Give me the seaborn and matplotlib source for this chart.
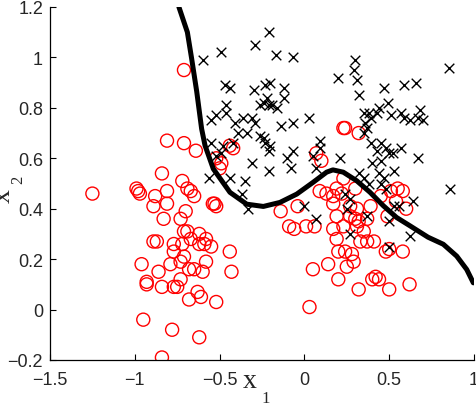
import numpy as np
import pandas as pd
import matplotlib
matplotlib.use("Agg")
import matplotlib.pyplot as plt
import seaborn as sns

# class "x" points (black crosses)
cross_x = [-0.21, -0.29, -0.49, -0.60, -0.17, -0.07, -0.47, -0.44, -0.30, -0.23,
           -0.20, -0.12, -0.12, -0.46, -0.26, -0.22, -0.24, -0.21, -0.19, -0.16,
           -0.55, -0.52, -0.46, -0.41, -0.36, -0.31, -0.29, -0.14, -0.07, 0.03,
           0.30, 0.20, 0.29, 0.31, 0.85, 0.59, 0.66, 0.47, 0.32, 0.49,
           0.44, 0.35, 0.38, 0.39, 0.43, 0.51, 0.57, 0.59, 0.62, 0.68,
           0.67, 0.70, 0.36, -0.39, -0.34, -0.26, -0.24, -0.23, -0.20, -0.21,
           -0.55, -0.48, -0.42, -0.52, -0.49, -0.31, -0.07, -0.10, -0.08, 0.09,
           0.09, -0.21, -0.56, -0.44, -0.35, -0.37, -0.33, 0.00, 0.07, 0.07,
           0.05, 0.35, 0.37, 0.39, 0.45, 0.48, 0.50, 0.52, 0.43, 0.57,
           0.21, 0.67, 0.40, 0.45, 0.44, 0.47, 0.53, 0.32, 0.35, 0.38,
           0.45, 0.48, 0.86, 0.24, 0.27, 0.53, 0.56, 0.64, 0.25, 0.37,
           0.50, 0.27, 0.62, 0.50]
cross_y = [1.10, 1.05, 1.02, 0.99, 1.01, 1.00, 0.89, 0.88, 0.87, 0.89,
           0.90, 0.88, 0.84, 0.81, 0.81, 0.84, 0.82, 0.81, 0.81, 0.80,
           0.75, 0.77, 0.78, 0.74, 0.76, 0.76, 0.74, 0.73, 0.74, 0.76,
           0.99, 0.92, 0.95, 0.91, 0.96, 0.89, 0.90, 0.88, 0.85, 0.82,
           0.80, 0.78, 0.78, 0.76, 0.78, 0.77, 0.78, 0.76, 0.75, 0.79,
           0.76, 0.75, 0.74, 0.70, 0.70, 0.69, 0.68, 0.66, 0.65, 0.63,
           0.66, 0.65, 0.66, 0.61, 0.62, 0.58, 0.63, 0.60, 0.56, 0.67,
           0.64, 0.55, 0.52, 0.52, 0.51, 0.46, 0.40, 0.41, 0.36, 0.56,
           0.61, 0.70, 0.72, 0.66, 0.66, 0.64, 0.62, 0.62, 0.63, 0.64,
           0.60, 0.60, 0.58, 0.59, 0.54, 0.52, 0.55, 0.54, 0.52, 0.50,
           0.50, 0.48, 0.48, 0.46, 0.44, 0.41, 0.41, 0.43, 0.40, 0.37,
           0.35, 0.30, 0.29, 0.25]

# class "o" points (red circles)
circ_x = [-0.71, -1.25, -0.81, -0.71, -0.84, -0.72, -0.99, -0.98, -0.97, -0.88,
          -0.81, -0.89, -0.81, -0.69, -0.83, -0.73, -0.70, -0.71, -0.69, -0.89,
          -0.87, -0.77, -0.72, -0.77, -0.71, -0.96, -0.86, -0.79, -0.73, -0.93,
          -0.93, -0.84, -0.77, -0.75, -0.73, -0.68, -0.68, -0.95, -0.78, -0.84,
          -0.62, -0.59, -0.55, -0.44, -0.65, -0.60, -0.58, -0.43, -0.63, -0.61,
          -0.52, -0.62, 0.05, 0.14, 0.20, 0.03, 0.19, 0.20, 0.24, 0.28,
          0.29, 0.25, 0.32, 0.40, 0.42, 0.44, 0.50, 0.62, 0.48, 0.50,
          0.58, 0.33, 0.37, 0.41, -0.64, -0.52, -0.49, -0.50, -0.44, -0.42,
          -0.67, -0.65, -0.54, -0.53, -0.52, -0.67, -0.62, -0.58, -0.14, -0.09,
          -0.06, -0.04, 0.01, 0.06, 0.07, 0.10, 0.09, 0.13, 0.17, 0.19,
          0.17, 0.19, 0.24, 0.23, 0.32, 0.23, 0.22, 0.30, 0.17, 0.27,
          0.31, 0.39, 0.45, 0.51, 0.55, 0.58, 0.60, 0.54, 0.30, 0.32,
          0.31, 0.27, 0.23, 0.37, 0.35, 0.49]
circ_y = [0.95, 0.46, 0.67, 0.66, 0.54, 0.51, 0.48, 0.47, 0.46, 0.45,
          0.47, 0.41, 0.42, 0.48, 0.36, 0.36, 0.39, 0.31, 0.31, 0.27,
          0.27, 0.26, 0.26, 0.23, 0.21, 0.18, 0.15, 0.18, 0.19, 0.11,
          0.10, 0.09, 0.09, 0.09, 0.12, 0.04, 0.16, -0.04, -0.08, -0.19,
          0.26, 0.26, 0.25, 0.23, 0.16, 0.15, 0.19, 0.15, 0.07, 0.05,
          0.03, -0.11, 0.16, 0.18, 0.12, 0.01, 0.28, 0.23, 0.23, 0.22,
          0.19, 0.17, 0.08, 0.12, 0.13, 0.12, 0.08, 0.10, 0.23, 0.24,
          0.23, 0.27, 0.27, 0.27, 0.63, 0.60, 0.58, 0.56, 0.65, 0.64,
          0.47, 0.45, 0.42, 0.42, 0.41, 0.28, 0.30, 0.28, 0.39, 0.33,
          0.32, 0.41, 0.33, 0.33, 0.62, 0.59, 0.47, 0.46, 0.45, 0.48,
          0.32, 0.37, 0.72, 0.72, 0.70, 0.52, 0.46, 0.48, 0.42, 0.41,
          0.40, 0.41, 0.45, 0.47, 0.48, 0.47, 0.40, 0.43, 0.36, 0.35,
          0.33, 0.37, 0.33, 0.36, 0.31, 0.37]

# decision boundary
bound_x = [-0.74, -0.69, -0.665, -0.635, -0.606, -0.586, -0.537, -0.439, -0.34, -0.242,
           -0.144, -0.045, 0.052, 0.131, 0.168, 0.229, 0.308, 0.387, 0.465, 0.544,
           0.623, 0.729, 0.819, 0.898, 0.957, 0.996]
bound_y = [1.20, 1.10, 0.996, 0.865, 0.717, 0.651, 0.558, 0.465, 0.418, 0.409,
           0.425, 0.458, 0.505, 0.545, 0.554, 0.545, 0.511, 0.465, 0.412, 0.365,
           0.332, 0.287, 0.259, 0.212, 0.159, 0.106]

x_ticks = [-1.5, -1, -0.5, 0, 0.5, 1]
x_tick_labels = ["\u22121.5", "\u22121", "\u22120.5", "0", "0.5", "1"]
y_ticks = [-0.2, 0, 0.2, 0.4, 0.6, 0.8, 1.0, 1.2]
y_tick_labels = ["\u22120.2", "0", "0.2", "0.4", "0.6", "0.8", "1", "1.2"]


def main():
    sns.set_style("ticks", {"xtick.direction": "in", "ytick.direction": "in"})
    plt.rcParams["font.family"] = ["Liberation Sans", "DejaVu Sans"]

    crosses = pd.DataFrame({"x1": cross_x, "x2": cross_y})
    circles = pd.DataFrame({"x1": circ_x, "x2": circ_y})
    boundary = pd.DataFrame({"x1": bound_x, "x2": bound_y})

    fig = plt.figure(figsize=(4.76, 4.06), dpi=100)
    ax = fig.add_axes([50 / 476, 1 - 361 / 406, 424 / 476, 353 / 406])

    sns.scatterplot(data=crosses, x="x1", y="x2", marker="x", color="black",
                    s=48, linewidth=1.0, ax=ax, zorder=3)
    sns.scatterplot(data=circles, x="x1", y="x2", marker="o", facecolor="none",
                    edgecolor="red", s=88, linewidth=1.0, ax=ax, zorder=2)
    sns.lineplot(data=boundary, x="x1", y="x2", sort=False, color="black",
                 linewidth=3.6, ax=ax, zorder=4)

    ax.set_xlim(-1.5, 1)
    ax.set_ylim(-0.2, 1.2)
    ax.set_xticks(x_ticks)
    ax.set_xticklabels(x_tick_labels)
    ax.set_yticks(y_ticks)
    ax.set_yticklabels(y_tick_labels)
    ax.tick_params(axis="both", labelsize=13, length=4, width=0.8, color="black")
    ax.tick_params(axis="x", pad=8)
    ax.tick_params(axis="y", pad=5)
    sns.despine(ax=ax)
    for side in ["left", "bottom"]:
        ax.spines[side].set_linewidth(0.9)
        ax.spines[side].set_color("black")
    ax.set_xlabel("")
    ax.set_ylabel("")

    # MATLAB-style labels with low subscripts
    serif = ["Liberation Serif", "DejaVu Serif"]
    ax.text(0.4705, -0.0765, "x", transform=ax.transAxes, ha="center",
            va="baseline", fontsize=20, family=serif)
    ax.text(0.509, -0.119, "1", transform=ax.transAxes, ha="center",
            va="baseline", fontsize=12, family=serif)
    ax.text(-0.0943, 0.467, "x", transform=ax.transAxes, ha="center",
            va="baseline", fontsize=20, family=serif, rotation=90,
            rotation_mode="anchor")
    ax.text(-0.066, 0.513, "2", transform=ax.transAxes, ha="center",
            va="baseline", fontsize=12, family=serif, rotation=90,
            rotation_mode="anchor")

    fig.savefig("out.png", dpi=100)


if __name__ == "__main__":
    main()
